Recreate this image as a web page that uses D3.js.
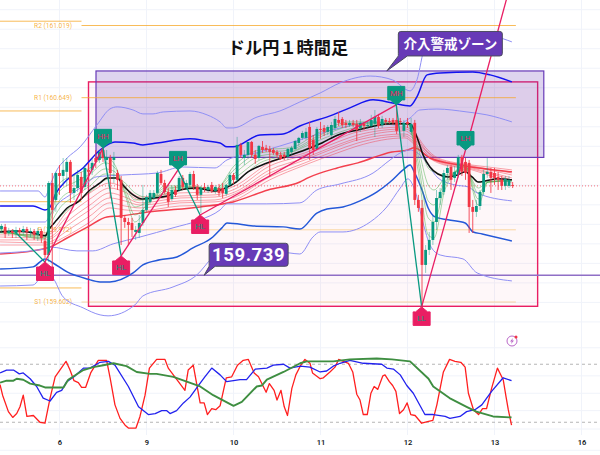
<!DOCTYPE html>
<html lang="ja">
<head>
<meta charset="utf-8">
<title>ドル円1時間足</title>
<script src="https://cdn.jsdelivr.net/npm/d3@7"></script>
<style>
html,body{margin:0;padding:0;background:#fff}
svg{display:block}
text{font-family:"Roboto","Noto Sans CJK JP",sans-serif}
</style>
</head>
<body>
<svg id="chart" width="600" height="455"></svg>
<script>
// --- Axis labels: hours counted from the session tick labelled 6 ---
const dayTickHours = [0, 24, 48, 72, 96, 120, 144];
const dayTickLabels = ["6", "9", "10", "11", "12", "13", "16"];
const priceGrid = [161.1, 161.0, 160.9, 160.8, 160.7, 160.6, 160.5, 160.4, 160.3, 160.2, 160.1, 160.0, 159.9, 159.8, 159.7, 159.6, 159.5];
const oscGrid = [97, 68, 50, 32, 13, -9];

// --- Pivot levels: [name, current level, previous level] ---
const pivots = [
  ["R2", 161.019, 161.041],
  ["R1", 160.649, 160.581],
  ["P", 159.972, 160.116],
  ["S1", 159.602, 159.674]
];
const pivotSwitchHour = 6.07, pivotEndHour = 125.9;

// --- Annotations ---
const alertLevel = 159.739;
const lastPrice = 160.197;
const interventionZone = [10.07, 133.6, 160.786, 160.343];
const rangeBox = [8, 131.9, 160.73, 159.58];
const zoneCalloutAnchor = [90.3, 160.786];
const levelCalloutAnchor = [39.9, 159.739];

// --- Hourly candles, first one at hour -16: [open, high, low, close] ---
const firstCandleHour = -16;
const candles = [
[159.976,160.002,159.956,159.992],[159.987,160.002,159.930,159.951],[159.956,159.982,159.941,159.966],[159.966,159.976,159.930,159.956],
[159.956,159.987,159.930,159.971],[159.971,159.982,159.941,159.961],[159.961,159.992,159.946,159.976],[159.976,159.987,159.920,159.961],
[159.961,159.982,159.935,159.966],[159.966,159.976,159.920,159.946],[159.946,159.982,159.915,159.966],[159.966,159.976,159.905,159.930],
[159.915,159.930,159.828,159.843],[159.843,160.222,159.807,160.212],[160.212,160.263,159.715,160.074],[160.125,160.269,160.064,160.263],
[160.263,160.304,160.151,160.248],[160.248,160.340,160.202,160.279],[160.269,160.340,160.202,160.320],[160.320,160.330,160.110,160.161],
[160.161,160.253,160.125,160.186],[160.186,160.279,160.166,160.253],[160.243,160.269,160.125,160.161],[160.192,160.304,160.176,160.289],
[160.279,160.315,160.228,160.269],[160.279,160.340,160.253,160.315],[160.340,160.381,160.289,160.320],[160.330,160.381,160.315,160.371],
[160.381,160.392,160.320,160.340],[160.330,160.381,160.304,160.345],[160.340,160.356,160.135,160.263],[160.330,160.371,160.212,160.345],
[160.263,160.279,160.176,160.228],[160.228,160.248,159.894,160.033],[160.033,160.048,159.982,160.012],[160.012,160.033,159.894,159.997],
[160.007,160.033,159.935,159.971],[159.961,159.992,159.920,159.971],[159.956,160.048,159.930,160.007],[160.007,160.202,159.992,160.074],
[160.074,160.151,160.064,160.140],[160.115,160.176,160.105,160.161],[160.135,160.176,160.125,160.161],[160.161,160.274,160.151,160.263],
[160.258,160.279,160.202,160.212],[160.212,160.228,160.156,160.166],[160.166,160.186,160.089,160.115],[160.130,160.197,160.120,160.176],
[160.176,160.197,160.140,160.151],[160.176,160.248,160.166,160.238],[160.238,160.253,160.176,160.192],[160.186,160.228,160.176,160.212],
[160.202,160.269,160.192,160.258],[160.258,160.274,160.176,160.192],[160.192,160.207,160.125,160.151],[160.151,160.197,160.058,160.186],
[160.192,160.212,160.166,160.186],[160.176,160.202,160.161,160.192],[160.202,160.217,160.161,160.171],[160.171,160.202,160.156,160.192],
[160.186,160.207,160.145,160.161],[160.186,160.212,160.135,160.161],[160.156,160.207,160.145,160.202],[160.202,160.269,160.192,160.253],
[160.253,160.263,160.207,160.228],[160.228,160.448,160.217,160.407],[160.407,160.417,160.340,160.356],[160.340,160.381,160.304,160.356],
[160.356,160.422,160.340,160.422],[160.422,160.427,160.340,160.356],[160.356,160.381,160.310,160.335],[160.340,160.407,160.330,160.402],
[160.397,160.427,160.366,160.381],[160.392,160.407,160.371,160.381],[160.386,160.402,160.243,160.371],[160.381,160.392,160.356,160.366],
[160.371,160.381,160.340,160.356],[160.356,160.371,160.330,160.335],[160.356,160.371,160.330,160.345],[160.345,160.392,160.330,160.386],
[160.371,160.402,160.356,160.392],[160.386,160.433,160.381,160.427],[160.417,160.448,160.402,160.443],[160.443,160.479,160.433,160.468],
[160.443,160.494,160.433,160.474],[160.499,160.525,160.330,160.392],[160.433,160.458,160.356,160.381],[160.386,160.499,160.381,160.489],
[160.489,160.525,160.438,160.484],[160.494,160.509,160.453,160.474],[160.474,160.509,160.458,160.499],[160.458,160.525,160.448,160.509],
[160.494,160.556,160.484,160.540],[160.535,160.576,160.504,160.520],[160.540,160.550,160.494,160.509],[160.520,160.535,160.494,160.509],
[160.509,160.535,160.499,160.520],[160.520,160.535,160.499,160.509],[160.515,160.535,160.427,160.484],[160.494,160.540,160.474,160.520],
[160.515,160.525,160.484,160.504],[160.504,160.525,160.489,160.509],[160.504,160.561,160.494,160.535],[160.515,160.586,160.448,160.550],
[160.550,160.566,160.494,160.504],[160.509,160.556,160.494,160.540],[160.535,160.545,160.509,160.525],[160.530,160.545,160.515,160.525],
[160.535,160.545,160.509,160.520],[160.535,160.607,160.463,160.479],[160.530,160.545,160.509,160.525],[160.479,160.535,160.448,160.520],
[160.525,160.545,160.494,160.515],[160.474,160.545,160.458,160.515],[160.520,160.535,160.099,160.125],[160.125,160.151,160.064,160.084],
[160.084,160.125,159.561,159.792],[159.792,159.894,159.751,159.869],[159.869,159.961,159.843,159.920],[159.920,160.048,159.894,160.012],
[160.012,160.176,159.971,160.135],[160.135,160.186,160.099,160.166],[160.166,160.279,160.151,160.263],[160.263,160.304,160.228,160.289],
[160.294,160.304,160.176,160.228],[160.238,160.299,160.217,160.269],[160.253,160.356,160.238,160.345],[160.345,160.356,160.248,160.269],
[160.320,160.340,160.228,160.263],[160.315,160.330,159.956,160.089],[160.089,160.125,159.956,160.064],[160.064,160.125,160.038,160.094],
[160.094,160.176,160.074,160.166],[160.166,160.279,160.151,160.258],[160.258,160.340,160.238,160.269],[160.269,160.289,160.161,160.238],
[160.263,160.289,160.202,160.238],[160.243,160.269,160.176,160.228],[160.228,160.248,160.176,160.197],[160.197,160.248,160.176,160.233],
[160.197,160.248,160.186,160.228],[160.202,160.217,160.186,160.197]
];

// --- Bollinger bands: [hour, price] ---
const bandPlus3 = [[-16.4,160.171],[-5.9,160.171],[-4,160.140],[-2.6,160.202],[-0.7,160.279],[2.1,160.340],[5.7,160.397],[10.3,160.509],[13.9,160.591],[15.9,160.602],[20.3,160.586],[23,160.566],[25.8,160.566],[28.6,160.576],[36,160.581],[40.7,160.561],[44.3,160.525],[46.2,160.494],[47.9,160.494],[54.5,160.550],[60.8,160.581],[66.3,160.627],[71.9,160.673],[77.4,160.725],[85.7,160.760],[91.9,160.740],[96.7,160.684],[98.6,160.740],[100.8,160.909],[104.1,160.965],[110.5,160.981],[119.6,160.965],[124.8,160.935]];
const bandPlus2 = [[-16.4,160.094],[-7.3,160.094],[-4,160.074],[-2.6,160.089],[-1.2,160.151],[2.1,160.228],[6.5,160.289],[11.2,160.381],[15.3,160.422],[20.3,160.417],[23,160.407],[26.9,160.417],[36,160.438],[40.7,160.427],[44.3,160.417],[46.2,160.397],[47.9,160.397],[55.3,160.458],[61.7,160.463],[66.3,160.504],[75.4,160.561],[80.1,160.597],[86.5,160.638],[91.9,160.622],[96.7,160.607],[98.6,160.653],[101.4,160.766],[105,160.776],[114,160.781],[118.8,160.766],[124.8,160.730]];
const bandPlus1 = [[-16.4,160.012],[-4,160.012],[-2.6,160.048],[-0.7,160.099],[2.9,160.151],[7,160.202],[10.1,160.243],[17.5,160.253],[26.9,160.263],[33.8,160.294],[42.9,160.289],[46.2,160.330],[55.3,160.371],[66.3,160.433],[77.4,160.494],[86.5,160.525],[92.6,160.509],[96.7,160.545],[99.4,160.586],[104.1,160.591],[112.4,160.576],[117.9,160.561],[124.8,160.525]];
const bandMinus1 = [[-16.4,159.853],[-4,159.874],[-2.6,159.884],[4.8,159.864],[9.2,159.864],[14.8,159.900],[22.2,159.935],[31.3,159.982],[38.8,160.023],[44.3,160.074],[46.2,160.105],[57.2,160.105],[66.3,160.110],[71,160.176],[77.4,160.207],[86.5,160.263],[91.2,160.330],[94,160.366],[96.7,160.381],[100,160.345],[101.7,160.304],[104.4,160.238],[109.1,160.202],[112.7,160.192],[115.2,160.161],[124.8,160.120]];
const bandMinus2 = [[-16.4,159.771],[-7.3,159.782],[-4,159.823],[-1.8,159.802],[2.1,159.756],[7.6,159.720],[11.2,159.705],[13.9,159.705],[20.3,159.751],[23,159.792],[27.7,159.818],[32.4,159.833],[36.8,159.879],[42.3,159.935],[44.8,159.982],[46.2,160.007],[53.4,159.992],[61.7,159.987],[66.3,159.976],[71,160.058],[73.8,160.079],[78.2,160.089],[82.9,160.120],[87.6,160.166],[91.2,160.217],[94.8,160.279],[96.7,160.304],[98,160.263],[100,160.176],[101.7,160.084],[103.6,160.038],[107.2,160.023],[111.9,160.007],[114.1,159.961],[116.6,159.951],[124.8,159.915]];
const bandMinus3 = [[-16.4,159.684],[-7.3,159.689],[-4,159.751],[-1.8,159.725],[1,159.628],[6.5,159.572],[11.2,159.536],[13.4,159.531],[20.8,159.587],[23,159.633],[31.3,159.679],[37.9,159.741],[42.3,159.833],[47.6,159.905],[53.4,159.879],[63.6,159.853],[66.3,159.848],[69.9,159.935],[71.9,159.961],[78.2,159.961],[85.7,160.012],[90.3,160.089],[94,160.186],[96.1,160.233],[98,160.176],[100.3,160.007],[102.2,159.894],[105,159.843],[111.3,159.823],[115.2,159.751],[124.8,159.710]];

// --- Moving averages: [hour, price] ---
const emaBlack = [[-16.4,159.961],[-11.7,159.966],[-7.3,159.956],[-4,159.941],[-2.6,159.982],[-0.7,160.023],[2.1,160.084],[5.1,160.115],[8.4,160.176],[11.2,160.212],[13.1,160.238],[15.9,160.238],[17.5,160.202],[20.3,160.151],[22.8,160.130],[25.8,160.135],[29.7,160.145],[33.2,160.176],[37.4,160.186],[42.9,160.171],[46.5,160.192],[48.4,160.212],[52,160.269],[55.9,160.304],[62.2,160.345],[67.7,160.381],[72.4,160.417],[76.8,160.458],[82.3,160.484],[91.7,160.515],[96.7,160.515],[98.6,160.448],[100.3,160.356],[102.2,160.294],[104.4,160.258],[107.2,160.243],[109.7,160.253],[111.9,160.269],[113.8,160.243],[115.5,160.217],[117.4,160.222],[121,160.233],[124.8,160.228]];
const emaRed = [[-16.4,159.848],[-7.3,159.864],[-2.6,159.884],[2.1,159.930],[7.8,159.987],[13.1,160.038],[16.7,160.043],[25,160.064],[38.8,160.089],[47.9,160.115],[57.5,160.176],[66.3,160.217],[68.5,160.238],[76.6,160.289],[82.3,160.315],[91.7,160.371],[96.1,160.381],[97.8,160.392],[102.2,160.340],[110.5,160.304],[124.8,160.269]];

// --- Slow (red) EMA ribbon ---
const redRibbonHours = [-16.4,-4,-2.6,2,8.4,13.9,18,22.2,33.2,42.9,48.4,58,67.7,77.4,82.3,95.3,98,100.8,104.4,113.8,118.2,124.8];
const redRibbon0 = [159.961,159.956,159.961,160.064,160.161,160.212,160.186,160.140,160.161,160.166,160.197,160.315,160.366,160.443,160.474,160.499,160.468,160.397,160.340,160.304,160.294,160.279];
const redRibbon1 = [159.946,159.946,159.951,160.038,160.130,160.186,160.166,160.125,160.145,160.151,160.181,160.299,160.356,160.427,160.458,160.489,160.458,160.386,160.335,160.299,160.284,160.263];
const redRibbon2 = [159.935,159.930,159.935,160.012,160.099,160.161,160.140,160.110,160.135,160.140,160.166,160.279,160.340,160.412,160.443,160.479,160.443,160.381,160.330,160.294,160.279,160.253];
const redRibbon3 = [159.920,159.920,159.925,159.992,160.074,160.135,160.120,160.099,160.120,160.125,160.156,160.263,160.330,160.402,160.433,160.463,160.433,160.371,160.325,160.289,160.269,160.238];
const redRibbon4 = [159.910,159.905,159.910,159.966,160.043,160.110,160.094,160.084,160.110,160.115,160.140,160.243,160.315,160.386,160.417,160.453,160.417,160.361,160.320,160.284,160.263,160.228];
const redRibbon5 = [159.894,159.894,159.900,159.941,160.012,160.084,160.074,160.069,160.094,160.099,160.125,160.228,160.304,160.371,160.402,160.443,160.407,160.356,160.315,160.279,160.253,160.212];

// --- Fast (green) EMA ribbon ---
const greenRibbonHours = [-16.4,-4,-2.6,0.1,4.3,8.4,12.6,15.3,18.1,20.8,25,29.1,36,42.9,48.4,55.3,63.6,71.9,80.1,88.4,96.1,98.9,101.7,103.3,106.3,108.3,111.9,115.5,118.2,124.8];
const greenRibbon0 = [159.976,159.925,160.048,160.212,160.253,160.289,160.345,160.304,160.151,160.012,160.115,160.197,160.197,160.181,160.304,160.381,160.392,160.474,160.525,160.525,160.515,160.279,159.946,159.930,160.176,160.248,160.304,160.099,160.217,160.222];
const greenRibbon1 = [159.971,159.930,160.033,160.171,160.217,160.258,160.315,160.289,160.166,160.048,160.120,160.186,160.192,160.181,160.284,160.366,160.381,160.458,160.515,160.520,160.515,160.320,160.033,160.012,160.197,160.253,160.299,160.130,160.217,160.222];
const greenRibbon2 = [159.966,159.935,160.017,160.125,160.181,160.228,160.284,160.269,160.181,160.089,160.125,160.176,160.192,160.176,160.263,160.351,160.371,160.448,160.504,160.520,160.515,160.356,160.120,160.099,160.217,160.253,160.294,160.161,160.217,160.228];
const greenRibbon3 = [159.961,159.941,159.997,160.084,160.145,160.197,160.258,160.253,160.197,160.125,160.130,160.166,160.186,160.176,160.238,160.330,160.366,160.433,160.489,160.515,160.515,160.392,160.202,160.176,160.238,160.258,160.284,160.186,160.217,160.228];
const greenRibbon4 = [159.956,159.946,159.982,160.038,160.110,160.166,160.228,160.238,160.212,160.161,160.135,160.156,160.181,160.176,160.217,160.315,160.356,160.417,160.479,160.509,160.515,160.433,160.289,160.269,160.253,160.263,160.279,160.217,160.217,160.228];

// --- Swing points of the zigzag: [hour, price, label, kind] ---
const swings = [
  [-4, 159.807, "HL", "low"],
  [12, 160.392, "HH", "high"],
  [17, 159.838, "HL", "low"],
  [32.7, 160.279, "LH", "high"],
  [38.8, 160.048, "HL", "low"],
  [92.9, 160.612, "MH", "high"],
  [99.9, 159.577, "LL", "low"],
  [112, 160.381, "LH", "high"]
];
const zigzagStart = [-12.8, 159.971];
const zigzagProjection = [123.4, 161.16];

// --- Oscillator panel: [hour, value] ---
const oscUpper = 80, oscLower = 20;
const oscRed = [[-16.4,59],[-15.7,48],[-14.1,31],[-12.9,25],[-11.8,29],[-10.9,36],[-10,48],[-9,26],[-7.2,27],[-5.4,20],[-4,19],[-2.6,45],[-1.2,67],[0.1,74],[1.8,83],[2.9,74],[4,63],[5.2,61],[6.1,56],[7.2,56],[8.6,71],[10.7,84],[13,84],[14,65],[15.3,38],[16.7,24],[18.1,17],[19,14],[21.1,14],[22.2,26],[23.6,48],[24.8,76],[26.8,85],[29.1,85],[30,76],[31.4,69],[32.8,62],[34.6,53],[35.5,74],[36.9,79],[38.8,40],[39.9,40],[40.8,28],[42,34],[43.1,33],[44.3,37],[46,66],[47.5,67],[49.1,79],[50.7,84],[52.1,85],[53.7,71],[54.9,67],[57,51],[57.9,60],[59.2,53],[60,43],[61.1,53],[62,36],[62.9,27],[64.1,55],[65.2,69],[66.4,78],[67.7,85],[69.1,81],[69.8,71],[71.9,65],[72.8,66],[74.6,72],[76,77],[77,85],[78.3,83],[79.7,81],[80.9,72],[82,49],[82.9,43],[83.8,28],[84.9,28],[85.9,50],[86.8,57],[87.8,54],[89.2,68],[89.8,69],[91,62],[91.9,58],[92.8,52],[93.8,29],[94.9,33],[95.9,40],[96.9,28],[98.1,27],[99.9,19],[101.8,21],[103,22],[104.1,38],[105.9,72],[107.6,85],[109.1,83],[110.7,82],[111.9,77],[112.8,50],[114.2,33],[115.6,28],[116.7,34],[117.8,34],[119.2,55],[120.8,76],[122.4,64],[123.2,46],[123.8,33],[124.7,17]];
const oscBlue = [[-16.4,71],[-14.6,74],[-12.7,74],[-11.1,70],[-10,71],[-8.1,65],[-6.3,57],[-4.5,45],[-2.6,42],[-0.8,51],[0.6,53],[2,62],[4.3,68],[6.6,76],[8.4,76],[11.2,82],[13.5,83],[15.3,79],[19,57],[21.8,36],[24.5,28],[26.4,29],[28.2,32],[29.6,32],[30.5,29],[32.3,32],[34.2,40],[36,46],[38.3,58],[40.1,67],[42,76],[44.3,69],[46.1,62],[48,63],[49.8,64],[51.6,64],[54,75],[57.2,76],[59,79],[61.8,80],[63.6,76],[66.4,78],[69.1,77],[71.9,72],[73.7,73],[75.5,78],[77.4,81],[80.1,84],[83.8,81],[88.9,80],[90.3,76],[92.1,75],[94,69],[95.8,58],[97.6,50],[100.8,28],[103.1,28],[106.4,26],[107.7,24],[110.5,26],[112.3,31],[114.6,33],[116.5,38],[119.2,52],[122.4,66],[124.7,63]];
const oscGreen = [[-16.4,61],[-14.6,63],[-12.7,63],[-11.8,65],[-10,64],[-8.1,60],[-5.4,58],[-4,56],[1.1,56],[2.4,64],[6.6,74],[9.3,77],[12.1,79],[14.9,81],[18.5,78],[21.3,72],[25,70],[26.8,70],[31.4,67],[35.1,62],[38.8,57],[42.4,48],[48,37],[50.3,41],[54.4,57],[55.8,58],[57.2,64],[61.8,72],[66.4,81],[68.2,83],[71.9,83],[75.5,83],[80.1,85],[87.5,86],[91.7,85],[96.7,83],[101.8,65],[103.1,57],[107.6,45],[112.3,36],[115,31],[119.6,26],[124.7,25]];

// --- Palette ---
const UP = "#089981", DOWN = "#f23645", PINK = "#e91e63", PURPLE = "#673ab7", ORANGE = "#f5a623";
const BLUE = "#1414f0", BLUE_LIGHT = "#8f8ff5";

// --- Scales ---
const W = 600, H = 455;
const x = d3.scaleLinear().domain([0, 144]).range([59.5, 581.5]);
const y = d3.scaleLinear().domain([161.019, 159.602]).range([25.5, 302]);
const yOsc = d3.scaleLinear().domain([0, 100]).range([441.6, 344.9]);

const svg = d3.select("#chart");
svg.append("rect").attr("width", W).attr("height", H).attr("fill", "#fff");

// Grid
const grid = svg.append("g").attr("stroke", "#f0f3fa").attr("stroke-width", 1);
grid.selectAll("line.v").data(dayTickHours).join("line").attr("class", "v")
  .attr("x1", d => x(d)).attr("x2", d => x(d)).attr("y1", 0).attr("y2", H - 20);
grid.selectAll("line.h").data(priceGrid).join("line").attr("class", "h")
  .attr("x1", 0).attr("x2", W).attr("y1", d => y(d)).attr("y2", d => y(d));
grid.selectAll("line.o").data(oscGrid).join("line").attr("class", "o")
  .attr("x1", 0).attr("x2", W).attr("y1", d => yOsc(d)).attr("y2", d => yOsc(d));

// Annotated boxes
function box(b) {
  return {x: x(b[0]), y: y(b[2]), width: x(b[1]) - x(b[0]), height: y(b[3]) - y(b[2])};
}
const rb = box(rangeBox), iz = box(interventionZone);
svg.append("rect").attr("x", rb.x).attr("y", rb.y).attr("width", rb.width).attr("height", rb.height)
  .attr("fill", PINK).attr("fill-opacity", 0.035).attr("stroke", PINK).attr("stroke-width", 1.4);
svg.append("rect").attr("x", iz.x).attr("y", iz.y).attr("width", iz.width).attr("height", iz.height)
  .attr("fill", PURPLE).attr("fill-opacity", 0.22).attr("stroke", PURPLE).attr("stroke-width", 1.2);

// Pivot levels and labels
const pivotG = svg.append("g");
pivots.forEach(([name, now, prev], i) => {
  const op = i < 2 ? 0.75 : 0.4;
  pivotG.append("line").attr("x1", 0).attr("x2", x(pivotSwitchHour)).attr("y1", y(prev)).attr("y2", y(prev))
    .attr("stroke", ORANGE).attr("stroke-width", 1).attr("stroke-opacity", 0.75);
  pivotG.append("line").attr("x1", x(pivotSwitchHour)).attr("x2", x(pivotEndHour)).attr("y1", y(now)).attr("y2", y(now))
    .attr("stroke", ORANGE).attr("stroke-width", 1).attr("stroke-opacity", op);
  pivotG.append("text").attr("x", 72).attr("y", y(now) + 2.4).attr("text-anchor", "end")
    .attr("font-size", 6.6).attr("fill", ORANGE).attr("fill-opacity", 0.85)
    .text(`${name} (${now.toFixed(3)})`);
});

// Current price and alert level
svg.append("line").attr("x1", 0).attr("x2", W).attr("y1", y(lastPrice)).attr("y2", y(lastPrice))
  .attr("stroke", DOWN).attr("stroke-opacity", 0.7).attr("stroke-dasharray", "1 2");
svg.append("line").attr("x1", 0).attr("x2", W).attr("y1", y(alertLevel)).attr("y2", y(alertLevel))
  .attr("stroke", "#8f6fc6").attr("stroke-width", 1.4);

// Generators
const curve = d3.curveMonotoneX;
const pairLine = d3.line().x(d => x(d[0])).y(d => y(d[1])).curve(curve);
const ribbonLine = hours => d3.line().x((d, i) => x(hours[i])).y(d => y(d)).curve(curve);
const oscLine = d3.line().x(d => x(d[0])).y(d => yOsc(d[1]));

const plot = svg.append("g").attr("fill", "none");
function drawPairs(data, stroke, width, opacity = 1) {
  plot.append("path").attr("d", pairLine(data)).attr("stroke", stroke)
    .attr("stroke-width", width).attr("stroke-opacity", opacity);
}

// Ribbons sit behind everything else on the price panel
[redRibbon0, redRibbon1, redRibbon2, redRibbon3, redRibbon4, redRibbon5].forEach(s => {
  plot.append("path").attr("d", ribbonLine(redRibbonHours)(s))
    .attr("stroke", DOWN).attr("stroke-opacity", 0.5).attr("stroke-width", 0.9);
});
drawPairs(emaRed, DOWN, 1.5, 0.95);

// Bollinger bands
[bandPlus3, bandPlus1, bandMinus1, bandMinus3].forEach(s => drawPairs(s, BLUE_LIGHT, 1));
drawPairs(bandPlus2, BLUE, 1.5);
drawPairs(bandMinus2, "#2458d8", 1.5);

[greenRibbon0, greenRibbon1, greenRibbon2, greenRibbon3, greenRibbon4].forEach(s => {
  plot.append("path").attr("d", ribbonLine(greenRibbonHours)(s))
    .attr("stroke", "#4caf50").attr("stroke-opacity", 0.55).attr("stroke-width", 0.9);
});
drawPairs(emaBlack, "#111", 1.5);

// Candlesticks
const candleG = svg.append("g");
const candleX = (d, i) => x(firstCandleHour + i);
const isUp = d => d[3] >= d[0];
candleG.selectAll("line").data(candles).join("line")
  .attr("x1", candleX).attr("x2", candleX)
  .attr("y1", d => y(d[1])).attr("y2", d => y(d[2]))
  .attr("stroke", d => isUp(d) ? UP : DOWN)
  .attr("stroke-opacity", d => isUp(d) ? 0.45 : 0.85)
  .attr("stroke-width", 1);
candleG.selectAll("rect").data(candles).join("rect")
  .attr("x", (d, i) => candleX(d, i) - 1.4).attr("width", 2.8)
  .attr("y", d => y(Math.max(d[0], d[3])))
  .attr("height", d => Math.max(1, Math.abs(y(d[0]) - y(d[3]))))
  .attr("fill", d => isUp(d) ? UP : DOWN);

// Zigzag between swing points
const zigPoints = [zigzagStart, ...swings, zigzagProjection];
const zigG = svg.append("g").attr("stroke-width", 1.3);
d3.pairs(zigPoints).forEach(([a, b]) => {
  zigG.append("line").attr("x1", x(a[0])).attr("y1", y(a[1])).attr("x2", x(b[0])).attr("y2", y(b[1]))
    .attr("stroke", b[1] > a[1] ? PINK : UP);
});

// Swing markers: teal flag above highs, pink flag below lows
const markerG = svg.append("g");
swings.forEach(([h, p, label, kind]) => {
  const cx = x(h), cy = y(p), high = kind === "high";
  const s = high ? -1 : 1;
  const shape = `M${cx},${cy} L${cx + 6},${cy + s * 5} L${cx + 8.5},${cy + s * 5} L${cx + 8.5},${cy + s * 18.5}
    L${cx - 8.5},${cy + s * 18.5} L${cx - 8.5},${cy + s * 5} L${cx - 6},${cy + s * 5} Z`;
  markerG.append("path").attr("d", shape).attr("fill", high ? UP : PINK)
    .attr("stroke", high ? UP : PINK).attr("stroke-width", 1).attr("stroke-linejoin", "round");
  markerG.append("text").attr("x", cx).attr("y", cy + s * 11.5 + 2.8).attr("text-anchor", "middle")
    .attr("font-size", 8).attr("fill", high ? PINK : UP).text(label);
});

// Callouts
function callout(anchor, bx, by, bw, bh, tailA, tailB, label, size, spacing) {
  const tx = x(anchor[0]), ty = y(anchor[1]);
  const l = tx + bx, t = ty + by, r = l + bw, b = t + bh, c = 2.5;
  const g = svg.append("g");
  g.append("path").attr("d",
    `M${l + c},${t} H${r - c} Q${r},${t} ${r},${t + c} V${b - c} Q${r},${b} ${r - c},${b}
     H${l + tailB} L${tx},${ty} L${l + tailA},${b} Q${l},${b} ${l},${b - c} V${t + c} Q${l},${t} ${l + c},${t} Z`)
    .attr("fill", PURPLE).attr("stroke", "#4b4b5e").attr("stroke-width", 1);
  g.append("text").attr("x", (l + r) / 2).attr("y", (t + b) / 2 + size * 0.36)
    .attr("text-anchor", "middle").attr("font-size", size).attr("font-weight", 700)
    .attr("letter-spacing", spacing).attr("fill", "#fff").text(label);
}
callout(zoneCalloutAnchor, 11.5, -39.5, 104, 24.5, 0, 9, "介入警戒ゾーン", 13.5, 0);
callout(levelCalloutAnchor, 5, -32, 79, 23, 0, 6, alertLevel.toFixed(3), 18.5, 0.6);

// Title
svg.append("text").attr("x", 288).attr("y", 53.5).attr("text-anchor", "middle")
  .attr("font-size", 17.2).attr("font-weight", 700).attr("fill", "#111")
  .attr("font-family", "'Noto Sans CJK JP',sans-serif").text("ドル円１時間足");

// Oscillator panel
svg.selectAll("line.osc").data([oscUpper, oscLower]).join("line").attr("class", "osc")
  .attr("x1", 0).attr("x2", W).attr("y1", d => yOsc(d)).attr("y2", d => yOsc(d))
  .attr("stroke", "#b5b5b5").attr("stroke-dasharray", "3 3");
const osc = svg.append("g").attr("fill", "none").attr("stroke-linejoin", "round");
osc.append("path").attr("d", oscLine(oscRed)).attr("stroke", "#ff1f1f").attr("stroke-width", 1.3);
osc.append("path").attr("d", oscLine(oscBlue)).attr("stroke", "#2222ee").attr("stroke-width", 1.3);
osc.append("path").attr("d", oscLine(oscGreen)).attr("stroke", "#3e8e41").attr("stroke-width", 1.9);

// Alert badge beside the oscillator pane
const badge = svg.append("g").attr("transform", "translate(512,341)");
badge.append("circle").attr("r", 5).attr("fill", "#fff").attr("stroke", "#ba68c8").attr("stroke-width", 1);
badge.append("path").attr("d", "M1,-3 L-2,0.5 L-0.2,0.5 L-1,3 L2,-0.5 L0.2,-0.5 Z").attr("fill", "#ba68c8");
badge.append("circle").attr("cx", 4).attr("cy", -4).attr("r", 1.5).attr("fill", "#f23645");

// Time axis
const axis = svg.append("g").attr("transform", "translate(0,436)")
  .call(d3.axisBottom(x).tickValues(dayTickHours).tickFormat((d, i) => dayTickLabels[i]).tickSize(0).tickPadding(4));
axis.select(".domain").remove();
axis.selectAll("text").attr("font-size", 7.5).attr("font-weight", 600).attr("fill", "#131722")
  .attr("font-family", "Roboto,sans-serif");
</script>
</body>
</html>
